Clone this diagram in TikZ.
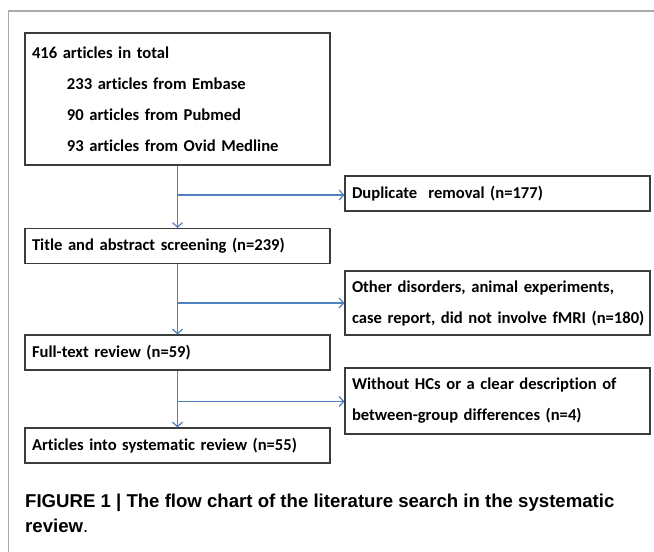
\documentclass[tikz,border=0pt]{standalone}
\usepackage{fontspec}
\setmainfont{Carlito}[Ligatures=NoCommon, WordSpace=0.8]
\newfontfamily\capfont{Liberation Sans}
\usetikzlibrary{arrows.meta}
\definecolor{flowblue}{RGB}{79,129,189}
\definecolor{boxline}{RGB}{60,60,60}
\definecolor{frameline}{RGB}{170,170,170}
\begin{document}
\begin{tikzpicture}
    [
    x=1pt, y=-1pt,
    every node/.style={inner sep=0pt},
    stage/.style={draw=boxline, line width=1.1pt, text width=291pt, inner xsep=7pt,
      minimum height=35pt, align=left, font=\bfseries\fontsize{16.6}{31}\selectfont},
    flow/.style={draw=flowblue, line width=1.2pt, -{Straight Barb[length=4.5pt,width=10pt]}},
    frame/.style={draw=frameline, line width=1.5pt},
    ]
    \useasboundingbox (0,0) rectangle (654,552);
    \draw[frame] (8.5,552) |- (654,11);
    \node[stage, minimum height=132pt] (total) at (177.5,99)
      {416 articles in total\\
       \hspace*{35pt}233 articles from Embase\\
       \hspace*{35pt}90 articles from Pubmed\\
       \hspace*{35pt}93 articles from Ovid Medline};
    \node[stage] (title) at (177.5,246) {Title and abstract screening (n=239)};
    \node[stage] (full) at (177.5,352.5) {Full-text review (n=59)};
    \node[stage] (incl) at (177.5,445.5) {Articles into systematic review (n=55)};
    \node[stage] (dup) at (497.5,193.5) {Duplicate\ \ removal (n=177)};
    \node[stage, minimum height=64pt] (other) at (497.5,303)
      {\mbox{Other disorders, animal experiments,}\\ \mbox{case report, did not involve fMRI (n=180)}};
    \node[stage, minimum height=66pt] (noHC) at (497.5,401)
      {Without HCs or a clear description of\\ between-group differences (n=4)};
    \node[anchor=base west, align=left, font=\capfont\bfseries\fontsize{18.6}{25}\selectfont] (cap) at (25,532.5)
      {FIGURE 1 | The flow chart of the literature search in the systematic\\ review\textmd{.}};
    \coordinate (j1) at (177.5,195);
    \coordinate (j2) at (177.5,303);
    \coordinate (j3) at (177.5,401.5);
    \draw[flow] (total) -- (title);
    \draw[flow] (title) -- (full);
    \draw[flow] (full) -- (incl);
    \draw[flow] (j1) -- (j1 -| dup.west);
    \draw[flow] (j2) -- (j2 -| other.west);
    \draw[flow] (j3) -- (j3 -| noHC.west);
  \end{tikzpicture}
\end{document}
